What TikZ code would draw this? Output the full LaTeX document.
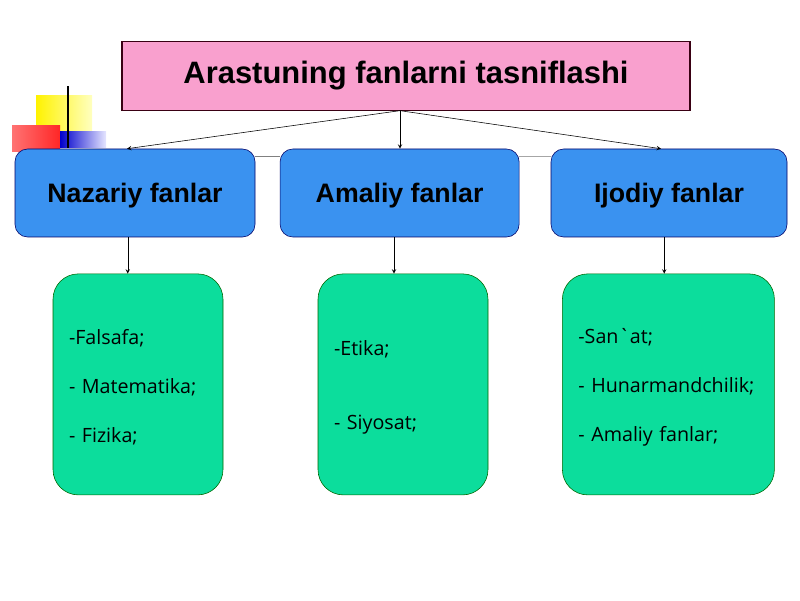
\documentclass[tikz,border=0pt]{standalone}
\usepackage{fontspec}
\setmainfont{Liberation Sans}
\newfontfamily\bodyfont{Open Sans}
\usepackage{tikz}
\usetikzlibrary{shapes,arrows,positioning}

\definecolor{titlepink}{HTML}{F9A0CE}
\definecolor{groupblue}{HTML}{3A92F0}
\definecolor{listgreen}{HTML}{0CDD9C}
\newcommand{\topgap}{\rule{0pt}{15pt}}

\begin{document}
\begin{tikzpicture}[
    titlenode/.style={draw=black!70!purple, fill=titlepink, thick, minimum width=14.2cm,
        minimum height=1.725cm, font=\fontsize{22}{26}\selectfont\bfseries},
    groupnode/.style={draw=black!60!blue, fill=groupblue, rounded corners=9pt,
        minimum height=2.2cm, text depth=0pt, font=\fontsize{19}{23}\selectfont\bfseries},
    listnode/.style={draw=black!60!green, fill=listgreen, rounded corners=18pt,
        minimum height=5.525cm, inner xsep=0.4cm, align=left,
        font=\bodyfont\fontsize{14}{34.9}\selectfont},
    myedge/.style={->, >=stealth, thin}
]
\useasboundingbox (0,0) rectangle (20,15);

% corner ornament
\shade[left color=yellow!90!orange, right color=yellow!25] (0.9,11.3) rectangle (2.3,12.6);
\shade[left color=red!55, right color=red!85] (0.3,11.2) rectangle (1.5,11.85);
\shade[left color=blue!80!black, right color=blue!10] (1.5,11.3) rectangle (2.65,11.7);
\draw[black, line width=1.2pt] (1.7,11.3) -- (1.7,12.85);

\node[titlenode] (T) at (10.15,13.11) {Arastuning fanlarni tasniflashi};

\node[groupnode, minimum width=6cm] (N) at (3.375,10.175) {Nazariy fanlar};
\node[groupnode, minimum width=5.975cm] (A) at (9.99,10.175) {Amaliy fanlar};
\node[groupnode, minimum width=5.9cm] (I) at (16.725,10.175) {Ijodiy fanlar};

\draw[gray, line width=1pt] ([yshift=-0.2cm]N.north east) -- ([yshift=-0.2cm]A.north west);
\draw[gray!70, line width=1pt] ([yshift=-0.2cm]A.north east) -- ([yshift=-0.2cm]I.north west);

\node[listnode, text width=3.45cm] (L1) at (3.45,5.39)
    {\topgap-Falsafa;\\ - Matematika;\\ - Fizika;};
\node[listnode, text width=3.45cm] (L2) at (10.075,5.39)
    {\topgap-Etika;\\[17.7pt] - Siyosat;};
\node[listnode, text width=4.5cm] (L3) at (16.71,5.39)
    {\topgap-San`at;\\ - Hunarmandchilik;\\ - Amaliy fanlar;};

\coordinate (top) at ([xshift=-0.15cm]T.south);
\draw[myedge] (top) -- ([xshift=-0.2cm]N.north);
\draw[myedge] (top) -- (top |- A.north);
\draw[myedge] (top) -- ([xshift=-0.2cm]I.north);

\draw[myedge] ([xshift=-0.18cm]N.south) -- ([xshift=-0.18cm]N.south |- L1.north);
\draw[myedge] ([xshift=-0.14cm]A.south) -- ([xshift=-0.14cm]A.south |- L2.north);
\draw[myedge] ([xshift=-0.12cm]I.south) -- ([xshift=-0.12cm]I.south |- L3.north);
\end{tikzpicture}
\end{document}
